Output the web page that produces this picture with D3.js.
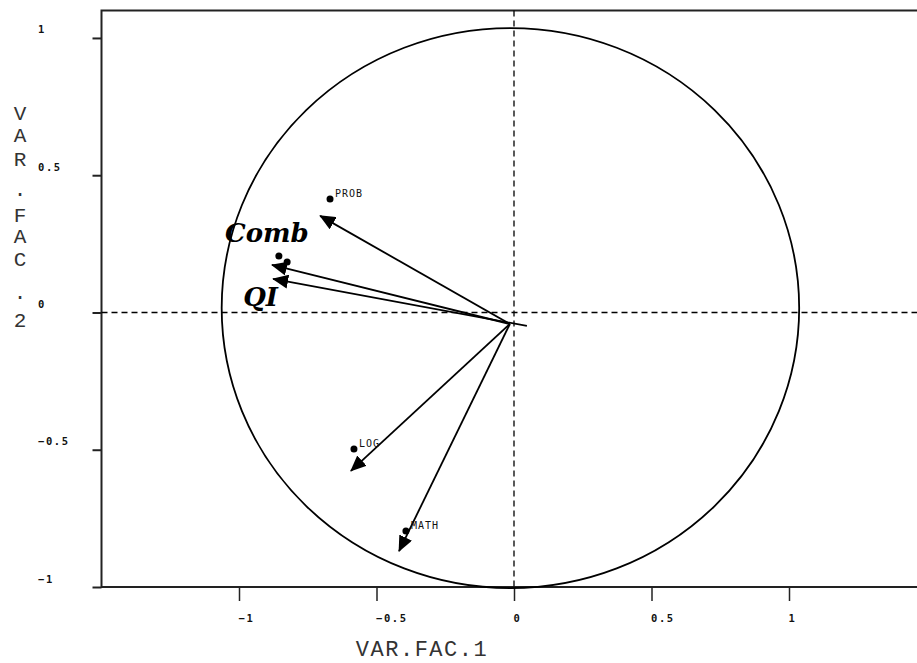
<!DOCTYPE html>
<html>
<head>
<meta charset="utf-8">
<script src="https://d3js.org/d3.v7.min.js"></script>
<style>
  body { margin: 0; background: #fff; }
  svg { display: block; }
</style>
</head>
<body>
<div class="container"></div>
<script>
////////////////////////////////////////////////////////////////
// DATA
////////////////////////////////////////////////////////////////
var xTicks = [-1, -0.5, 0, 0.5, 1];
var yTicks = [-1, -0.5, 0, 0.5, 1];

// small labelled variables
var varNames = ["PROB", "LOG", "MATH"];
var varX = [-0.669, -0.582, -0.393];
var varY = [0.413, -0.497, -0.796];

// the two Comb points (no label of their own)
var combX = [-0.855, -0.825];
var combY = [0.206, 0.184];

// arrows: start and tip
var arrowX0 = [-0.015, -0.015, 0.047, -0.015, -0.015];
var arrowY0 = [-0.042, -0.042, -0.049, -0.042, -0.042];
var arrowX1 = [-0.705, -0.880, -0.876, -0.593, -0.418];
var arrowY1 = [0.352, 0.173, 0.122, -0.577, -0.869];

// big labels
var bigNames = ["Comb", "QI"];
var bigX = [-1.051, -0.985];
var bigY = [0.257, 0.024];

// correlation circle (centre, radii)
var circleC = [-0.013, 0.016];
var circleR = [1.05, 1.02];

var xTitle = "VAR.FAC.1";
var yTitle = "VAR.FAC.2";

////////////////////////////////////////////////////////////////
// STAGE
////////////////////////////////////////////////////////////////
var W = 917, H = 663;
var svg = d3.select(".container").append("svg")
    .attr("width", W).attr("height", H);

var x = d3.scaleLinear().domain([-1.5, 1.5]).range([101.5, 926.5]);
var y = d3.scaleLinear().domain([-1, 1.1]).range([587, 10.5]);

var fmt = function(d) { return d3.format("")(d); };

////////////////////////////////////////////////////////////////
// FRAME + TICKS
////////////////////////////////////////////////////////////////
svg.append("rect")
    .attr("x", x(-1.5)).attr("y", y(1.1))
    .attr("width", x(1.5) - x(-1.5))
    .attr("height", y(-1) - y(1.1))
    .attr("fill", "none")
    .attr("stroke", "#222")
    .attr("stroke-width", 2);

var xAxis = svg.append("g").attr("transform", "translate(0," + y(-1) + ")")
    .call(d3.axisBottom(x).tickValues(xTicks).tickSize(14).tickFormat(fmt));
xAxis.select(".domain").remove();
xAxis.selectAll(".tick line").attr("stroke", "#222").attr("stroke-width", 1.5);
xAxis.selectAll(".tick text")
    .attr("y", 35).attr("dy", null)
    .attr("text-anchor", "start")
    .attr("dx", -1)
    .attr("font-family", "DejaVu Sans Mono")
    .attr("font-weight", "bold")
    .attr("font-size", 10.5)
    .attr("letter-spacing", 1.6)
    .attr("fill", "#111");

var yAxis = svg.append("g").attr("transform", "translate(" + x(-1.5) + ",0)")
    .call(d3.axisLeft(y).tickValues(yTicks).tickSize(9).tickFormat(fmt));
yAxis.select(".domain").remove();
yAxis.selectAll(".tick line").attr("stroke", "#222").attr("stroke-width", 2);
yAxis.selectAll(".tick text")
    .attr("x", 38 - x(-1.5)).attr("dy", -5)
    .attr("text-anchor", "start")
    .attr("font-family", "DejaVu Sans Mono")
    .attr("font-weight", "bold")
    .attr("font-size", 10.5)
    .attr("letter-spacing", 1.6)
    .attr("fill", "#111");

////////////////////////////////////////////////////////////////
// DASHED ZERO LINES
////////////////////////////////////////////////////////////////
svg.append("line")
    .attr("x1", x(-1.5)).attr("x2", x(1.5))
    .attr("y1", y(0)).attr("y2", y(0))
    .attr("stroke", "#000").attr("stroke-width", 1.3)
    .attr("stroke-dasharray", "6,4");
svg.append("line")
    .attr("x1", x(0)).attr("x2", x(0))
    .attr("y1", y(1.1)).attr("y2", y(-1))
    .attr("stroke", "#000").attr("stroke-width", 1.3)
    .attr("stroke-dasharray", "6,4");

////////////////////////////////////////////////////////////////
// CIRCLE
////////////////////////////////////////////////////////////////
svg.append("ellipse")
    .attr("cx", x(circleC[0])).attr("cy", y(circleC[1]))
    .attr("rx", x(circleR[0]) - x(0))
    .attr("ry", y(0) - y(circleR[1]))
    .attr("fill", "none")
    .attr("stroke", "#000")
    .attr("stroke-width", 1.8);

////////////////////////////////////////////////////////////////
// ARROWS
////////////////////////////////////////////////////////////////
svg.append("defs").append("marker")
    .attr("id", "head")
    .attr("markerUnits", "userSpaceOnUse")
    .attr("viewBox", "0 0 16 14")
    .attr("refX", 15).attr("refY", 7)
    .attr("markerWidth", 16).attr("markerHeight", 14)
    .attr("orient", "auto")
  .append("path")
    .attr("d", "M0,0 L16,7 L0,14 Z")
    .attr("fill", "#000");

svg.selectAll(".arrow")
    .data(d3.range(arrowX0.length))
  .enter().append("line")
    .attr("class", "arrow")
    .attr("x1", function(i) { return x(arrowX0[i]); })
    .attr("y1", function(i) { return y(arrowY0[i]); })
    .attr("x2", function(i) { return x(arrowX1[i]); })
    .attr("y2", function(i) { return y(arrowY1[i]); })
    .attr("stroke", "#000")
    .attr("stroke-width", 1.8)
    .attr("marker-end", "url(#head)");

////////////////////////////////////////////////////////////////
// POINTS + LABELS
////////////////////////////////////////////////////////////////
svg.selectAll(".vdot")
    .data(d3.range(varNames.length))
  .enter().append("circle")
    .attr("class", "vdot")
    .attr("cx", function(i) { return x(varX[i]); })
    .attr("cy", function(i) { return y(varY[i]); })
    .attr("r", 3.5)
    .attr("fill", "#000");

svg.selectAll(".vlab")
    .data(d3.range(varNames.length))
  .enter().append("text")
    .attr("class", "vlab")
    .attr("x", function(i) { return x(varX[i]) + 5; })
    .attr("y", function(i) { return y(varY[i]) - 2; })
    .attr("font-family", "DejaVu Sans Mono")
    .attr("font-size", 10)
    .attr("letter-spacing", 1)
    .attr("fill", "#111")
    .text(function(i) { return varNames[i]; });

svg.selectAll(".cdot")
    .data(d3.range(combX.length))
  .enter().append("circle")
    .attr("class", "cdot")
    .attr("cx", function(i) { return x(combX[i]); })
    .attr("cy", function(i) { return y(combY[i]); })
    .attr("r", 3.5)
    .attr("fill", "#000");

svg.selectAll(".big")
    .data(d3.range(bigNames.length))
  .enter().append("text")
    .attr("class", "big")
    .attr("x", function(i) { return x(bigX[i]); })
    .attr("y", function(i) { return y(bigY[i]); })
    .attr("font-family", "DejaVu Serif")
    .attr("font-weight", "bold")
    .attr("font-style", "italic")
    .attr("font-size", 26)
    .attr("fill", "#000")
    .text(function(i) { return bigNames[i]; });

////////////////////////////////////////////////////////////////
// AXIS TITLES
////////////////////////////////////////////////////////////////
svg.append("text")
    .attr("x", 422)
    .attr("y", 656)
    .attr("text-anchor", "middle")
    .attr("font-family", "Liberation Mono")
    .attr("font-size", 22)
    .attr("letter-spacing", 1.5)
    .attr("fill", "#333")
    .text(xTitle);

// vertical title: one letter under the other
var yStep = [120, 142, 166, 196, 222, 243, 266, 299, 327];
svg.selectAll(".ytl")
    .data(yTitle.split(""))
  .enter().append("text")
    .attr("class", "ytl")
    .attr("x", 20)
    .attr("y", function(d, i) { return yStep[i]; })
    .attr("text-anchor", "middle")
    .attr("font-family", "Liberation Mono")
    .attr("font-size", 21)
    .attr("fill", "#333")
    .text(function(d) { return d; });
</script>
</body>
</html>
